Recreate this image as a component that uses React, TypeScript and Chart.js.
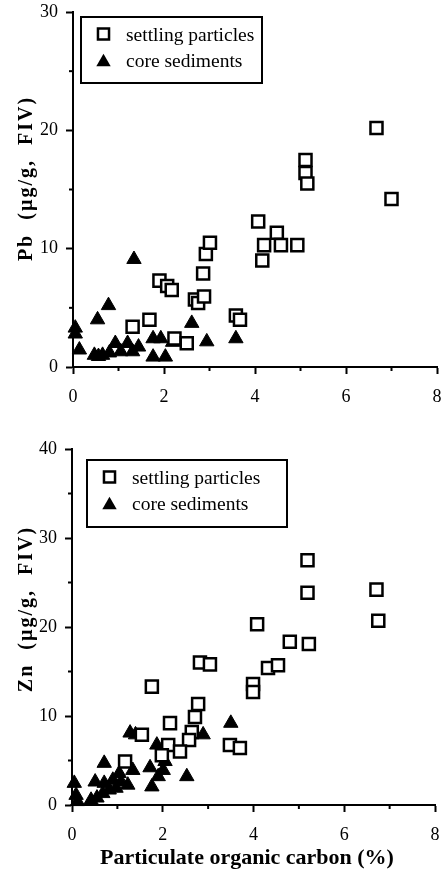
import React, { useEffect, useRef } from 'react';
import { Chart, registerables } from 'chart.js';

Chart.register(...registerables);

const FONT = '"Liberation Serif", "DejaVu Serif", serif';

// ---- Pb panel (top) ----
const pbSettlingX = [1.31, 1.68, 1.90, 2.07, 2.17, 2.23, 2.50, 2.68, 2.75, 2.88, 2.86, 2.92, 3.01, 3.58, 3.67, 4.07, 4.16, 4.20, 4.48, 4.57, 4.93, 5.11, 5.11, 5.15, 6.67, 7.00];
const pbSettlingY = [3.4, 4.0, 7.3, 6.85, 6.5, 2.4, 2.0, 5.7, 5.4, 5.95, 7.9, 9.55, 10.5, 4.35, 4.0, 12.3, 9.0, 10.3, 11.35, 10.3, 10.3, 17.5, 16.4, 15.5, 20.2, 14.2];
const pbCoreX = [0.05, 0.05, 0.14, 0.54, 0.78, 1.34, 0.47, 0.56, 0.65, 0.80, 0.93, 1.05, 1.20, 1.31, 1.44, 1.76, 1.93, 1.76, 2.03, 2.19, 2.61, 2.94, 3.58];
const pbCoreY = [3.3, 2.8, 1.45, 4.0, 5.2, 9.1, 1.0, 0.9, 1.0, 1.2, 2.0, 1.3, 2.0, 1.3, 1.7, 2.4, 2.4, 0.85, 0.85, 2.1, 3.7, 2.14, 2.4];

// ---- Zn panel (bottom) ----
const znSettlingX = [5.19, 5.19, 6.71, 6.75, 4.08, 4.80, 5.22, 4.32, 4.54, 3.99, 3.99, 2.82, 3.04, 1.76, 2.78, 2.71, 2.16, 2.64, 2.58, 2.12, 2.38, 1.54, 3.48, 3.70, 1.17, 1.98];
const znSettlingY = [27.5, 23.85, 24.2, 20.7, 20.3, 18.35, 18.1, 15.4, 15.7, 13.6, 12.7, 16.0, 15.8, 13.3, 11.35, 9.9, 9.2, 8.2, 7.3, 6.75, 6.0, 7.9, 6.75, 6.4, 4.9, 5.6];
const znCoreX = [3.50, 1.28, 1.40, 2.89, 1.87, 0.71, 1.34, 1.04, 1.72, 2.05, 2.01, 1.90, 1.76, 2.53, 0.51, 0.71, 0.90, 1.08, 1.23, 0.05, 0.09, 0.42, 0.55, 0.68, 0.82, 0.97, 0.12];
const znCoreY = [9.2, 8.1, 7.9, 7.9, 6.75, 4.7, 3.9, 3.55, 4.2, 4.9, 3.9, 3.2, 2.05, 3.2, 2.6, 2.45, 2.8, 2.6, 2.25, 2.45, 1.1, 0.55, 0.8, 1.3, 1.7, 1.9, 0.4];

// ---- axes / labels ----
const xMin = 0;
const xMax = 8;
const xStep = 2;
const xMinorTicks = [1, 3, 5, 7];
const pbMax = 30;
const znMax = 40;
const yStep = 10;
const pbMinorTicks = [5, 15, 25];
const znMinorTicks = [5, 15, 25, 35];
const legendLabels = ['settling particles', 'core sediments'];
const xTitle = 'Particulate organic carbon (%)';
const pbTitle = 'Pb  (\u00b5g/g,  FIV)';
const znTitle = 'Zn  (\u00b5g/g,  FIV)';

const SQ_R = 8.5;
const SQ_BW = 2.5;
const TRI_R = 8.3;

function drawSquare(ctx: CanvasRenderingContext2D, x: number, y: number) {
  const s = Math.SQRT1_2 * SQ_R * 0.92;
  ctx.fillStyle = '#fff';
  ctx.strokeStyle = '#000';
  ctx.lineWidth = 2.5;
  ctx.beginPath();
  ctx.rect(x - s, y - s, 2 * s, 2 * s);
  ctx.fill();
  ctx.stroke();
}

function drawTriangle(ctx: CanvasRenderingContext2D, x: number, y: number) {
  const r = TRI_R;
  ctx.fillStyle = '#000';
  ctx.beginPath();
  ctx.moveTo(x, y - r);
  ctx.lineTo(x + r * Math.sin((2 * Math.PI) / 3), y - r * Math.cos((2 * Math.PI) / 3));
  ctx.lineTo(x + r * Math.sin((4 * Math.PI) / 3), y - r * Math.cos((4 * Math.PI) / 3));
  ctx.closePath();
  ctx.fill();
}

const zeroPad = (s: any) => {
  s.paddingLeft = 0;
  s.paddingRight = 0;
  s.paddingTop = 0;
  s.paddingBottom = 0;
};

const decorPlugin = {
  id: 'decor',
  afterDraw(chart: any, _args: any, opts: any) {
    const { ctx, chartArea: ca, scales } = chart;
    ctx.save();
    // minor ticks
    ctx.strokeStyle = '#000';
    ctx.lineWidth = 2;
    (opts.xMinor || []).forEach((v: number) => {
      const px = scales.x.getPixelForValue(v);
      ctx.beginPath();
      ctx.moveTo(px, ca.bottom);
      ctx.lineTo(px, ca.bottom + 4);
      ctx.stroke();
    });
    (opts.yMinor || []).forEach((v: number) => {
      const py = scales.y.getPixelForValue(v);
      ctx.beginPath();
      ctx.moveTo(ca.left - 4, py);
      ctx.lineTo(ca.left, py);
      ctx.stroke();
    });
    ctx.restore();

    // y title
    ctx.save();
    ctx.translate(opts.yTitleX, (ca.top + ca.bottom) / 2 + opts.yTitleShift);
    ctx.rotate(-Math.PI / 2);
    ctx.font = `bold 20px ${FONT}`;
    try { (ctx as any).letterSpacing = '2px'; } catch (e) { /* ignore */ }
    ctx.textAlign = 'center';
    ctx.textBaseline = 'middle';
    ctx.fillStyle = '#000';
    ctx.fillText(opts.yTitle, 0, 0);
    ctx.restore();

    // x title
    if (opts.xTitle) {
      ctx.save();
      ctx.font = `bold 22px ${FONT}`;
      ctx.textAlign = 'center';
      ctx.textBaseline = 'middle';
      ctx.fillStyle = '#000';
      ctx.fillText(opts.xTitle, opts.xTitleX, opts.xTitleY);
      ctx.restore();
    }

    // legend
    const lb = opts.legend;
    const bx = ca.left + lb.dx;
    const by = ca.top + lb.dy;
    ctx.save();
    ctx.fillStyle = '#fff';
    ctx.fillRect(bx, by, lb.w, lb.h);
    ctx.strokeStyle = '#000';
    ctx.lineWidth = 2;
    ctx.strokeRect(bx, by, lb.w, lb.h);
    ctx.font = `19.5px ${FONT}`;
    ctx.textAlign = 'left';
    ctx.textBaseline = 'alphabetic';
    const base1 = by + 24;
    const base2 = by + 50;
    drawSquare(ctx, bx + 22.5, base1 - 7);
    drawTriangle(ctx, bx + 22.5, base2 - 5);
    ctx.fillStyle = '#000';
    ctx.fillText(legendLabels[0], bx + 45, base1);
    ctx.fillText(legendLabels[1], bx + 45, base2);
    ctx.restore();
  },
};

type PanelProps = {
  sx: number[];
  sy: number[];
  cx: number[];
  cy: number[];
  yMax: number;
  yMinor: number[];
  yTitle: string;
  xTitle: string | null;
  width: number;
  height: number;
  top: number;
  padTop: number;
  padRight: number;
  yAxisWidth: number;
  xAxisHeight: number;
  legend: { dx: number; dy: number; w: number; h: number };
  yTitleX: number;
  yTitleShift: number;
};

function Panel(p: PanelProps) {
  const ref = useRef<HTMLCanvasElement | null>(null);
  useEffect(() => {
    if (!ref.current) return;
    const squares = p.sx.map((x, i) => ({ x, y: p.sy[i] }));
    const triangles = p.cx.map((x, i) => ({ x, y: p.cy[i] }));
    const chart = new Chart(ref.current, {
      type: 'scatter',
      data: {
        datasets: [
          {
            label: legendLabels[0],
            data: squares,
            pointStyle: 'rect',
            pointRadius: SQ_R,
            pointHoverRadius: SQ_R,
            backgroundColor: '#fff',
            borderColor: '#000',
            borderWidth: SQ_BW,
            clip: false,
          },
          {
            label: legendLabels[1],
            data: triangles,
            pointStyle: 'triangle',
            pointRadius: TRI_R,
            pointHoverRadius: TRI_R,
            backgroundColor: '#000',
            borderColor: '#000',
            borderWidth: 1,
            clip: false,
          },
        ],
      },
      options: {
        responsive: false,
        animation: false,
        devicePixelRatio: 1,
        events: [],
        layout: { autoPadding: false, padding: { top: p.padTop, right: p.padRight, left: 0, bottom: 0 } },
        plugins: {
          legend: { display: false },
          tooltip: { enabled: false },
          decor: {
            xMinor: xMinorTicks,
            yMinor: p.yMinor,
            yTitle: p.yTitle,
            yTitleX: p.yTitleX,
            yTitleShift: p.yTitleShift,
            xTitle: p.xTitle,
            xTitleX: 247,
            xTitleY: 443,
            legend: p.legend,
          },
        } as any,
        scales: {
          x: {
            type: 'linear',
            min: xMin,
            max: xMax,
            ticks: {
              stepSize: xStep,
              color: '#000',
              font: { family: FONT, size: 18 },
              padding: 12,
              maxRotation: 0,
            },
            grid: {
              display: true,
              drawOnChartArea: false,
              drawTicks: true,
              tickLength: 7,
              tickWidth: 2,
              tickColor: '#000',
            },
            border: { display: true, color: '#000', width: 2 },
            afterFit: (s: any) => {
              s.height = p.xAxisHeight;
              zeroPad(s);
            },
          },
          y: {
            type: 'linear',
            min: 0,
            max: p.yMax,
            ticks: {
              stepSize: yStep,
              color: '#000',
              font: { family: FONT, size: 18 },
              padding: 8,
            },
            grid: {
              display: true,
              drawOnChartArea: false,
              drawTicks: true,
              tickLength: 7,
              tickWidth: 2,
              tickColor: '#000',
            },
            border: { display: true, color: '#000', width: 2 },
            afterFit: (s: any) => {
              s.width = p.yAxisWidth;
              zeroPad(s);
            },
          },
        },
      },
      plugins: [decorPlugin as any],
    });
    return () => chart.destroy();
  }, []);
  return (
    <canvas
      ref={ref}
      width={p.width}
      height={p.height}
      style={{ position: 'absolute', left: 0, top: p.top, width: p.width, height: p.height }}
    />
  );
}

export default function App() {
  return (
    <div style={{ position: 'absolute', left: 0, top: 0, width: 444, height: 874, background: '#fff' }}>
      <Panel
        sx={pbSettlingX}
        sy={pbSettlingY}
        cx={pbCoreX}
        cy={pbCoreY}
        yMax={pbMax}
        yMinor={pbMinorTicks}
        yTitle={pbTitle}
        xTitle={null}
        width={444}
        height={415}
        top={0}
        padTop={12}
        padRight={7}
        yAxisWidth={73}
        xAxisHeight={48}
        legend={{ dx: 8, dy: 5, w: 181, h: 66 }}
        yTitleX={27}
        yTitleShift={-11}
      />
      <Panel
        sx={znSettlingX}
        sy={znSettlingY}
        cx={znCoreX}
        cy={znCoreY}
        yMax={znMax}
        yMinor={znMinorTicks}
        yTitle={znTitle}
        xTitle={xTitle}
        width={444}
        height={459}
        top={415}
        padTop={34}
        padRight={9}
        yAxisWidth={72}
        xAxisHeight={69}
        legend={{ dx: 15, dy: 11, w: 200, h: 67 }}
        yTitleX={27}
        yTitleShift={-18}
      />
    </div>
  );
}
